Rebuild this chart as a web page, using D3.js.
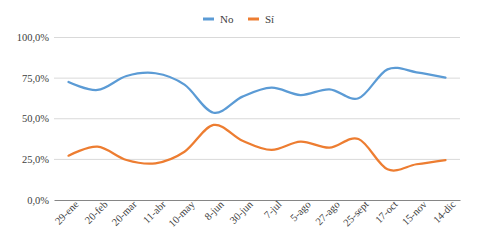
<!DOCTYPE html>
<html>
<head>
<meta charset="utf-8">
<script src="https://cdn.jsdelivr.net/npm/d3@7"></script>
<style>
  body { margin: 0; background: #fff; }
</style>
</head>
<body>
<svg id="chart" width="482" height="244"></svg>
<script>
// data
const dates = ["29-ene", "20-feb", "20-mar", "11-abr", "10-may", "8-jun", "30-jun",
  "7-jul", "5-ago", "27-ago", "25-sept", "17-oct", "15-nov", "14-dic"];
const noValues = [72.6, 67.7, 76.3, 78.0, 71.0, 53.7, 63.6, 69.1, 64.6, 68.1, 62.6, 80.4, 78.6, 75.3];
const siValues = [27.3, 32.8, 24.6, 22.6, 29.7, 46.2, 36.5, 30.8, 35.9, 32.2, 37.5, 18.9, 22.0, 24.6];
const yTicks = [0, 25, 50, 75, 100];

const series = [
  { name: "No", values: noValues, color: "#5B9BD5" },
  { name: "Sí", values: siValues, color: "#ED7D31" }
];

const serif = "'Liberation Serif', 'Times New Roman', 'DejaVu Serif', serif";
const svg = d3.select("#chart");
const margin = { left: 54, right: 22, top: 37.5, bottom: 44 };
const width = 482, height = 244;

const x = d3.scaleBand()
  .domain(dates)
  .range([margin.left, width - margin.right]);

const y = d3.scaleLinear()
  .domain([0, 100])
  .range([height - margin.bottom, margin.top]);

const fmt = d => d3.format(".1f")(d).replace(".", ",") + "%";

// gridlines
svg.append("g")
  .selectAll("line")
  .data(yTicks.filter(d => d > 0))
  .enter()
  .append("line")
  .attr("x1", margin.left)
  .attr("x2", width - margin.right)
  .attr("y1", d => y(d))
  .attr("y2", d => y(d))
  .style("stroke", "#d9d9d9")
  .style("stroke-width", 1);

// y axis labels
svg.append("g")
  .selectAll("text")
  .data(yTicks)
  .enter()
  .append("text")
  .attr("x", margin.left - 5)
  .attr("y", d => y(d))
  .attr("dy", "0.35em")
  .attr("text-anchor", "end")
  .style("font-family", serif)
  .style("font-size", "10.5px")
  .style("fill", "#404040")
  .text(fmt);

// x axis
const xAxis = svg.append("g")
  .attr("transform", `translate(0, ${y(0)})`)
  .call(d3.axisBottom(x).tickSize(0).tickPadding(8));
xAxis.select(".domain").style("stroke", "#868686");
xAxis.selectAll("text")
  .attr("text-anchor", "end")
  .attr("transform", "rotate(-45) translate(2,-2)")
  .attr("dx", "0.2em")
  .attr("dy", "0.5em")
  .style("font-size", "10.5px")
  .style("font-family", serif)
  .style("fill", "#404040");

// lines
const line = d3.line()
  .x((d, i) => x(dates[i]) + x.bandwidth() / 2)
  .y(d => y(d))
  .curve(d3.curveCatmullRom.alpha(0));

svg.append("g")
  .selectAll("path")
  .data(series)
  .enter()
  .append("path")
  .attr("d", d => line(d.values))
  .style("fill", "none")
  .style("stroke", d => d.color)
  .style("stroke-width", 2.25)
  .style("stroke-linecap", "round");

// legend
const legend = svg.append("g").attr("transform", "translate(203, 19)");
const items = legend.selectAll("g")
  .data(series)
  .enter()
  .append("g")
  .attr("transform", (d, i) => `translate(${i * 45}, 0)`);
items.append("line")
  .attr("x1", 0).attr("x2", 11)
  .attr("y1", 0).attr("y2", 0)
  .style("stroke", d => d.color)
  .style("stroke-width", 3);
items.append("text")
  .attr("x", 17)
  .attr("y", 0)
  .attr("dy", "0.35em")
  .style("font-family", serif)
  .style("font-size", "11px")
  .style("fill", "#404040")
  .text(d => d.name);
</script>
</body>
</html>
